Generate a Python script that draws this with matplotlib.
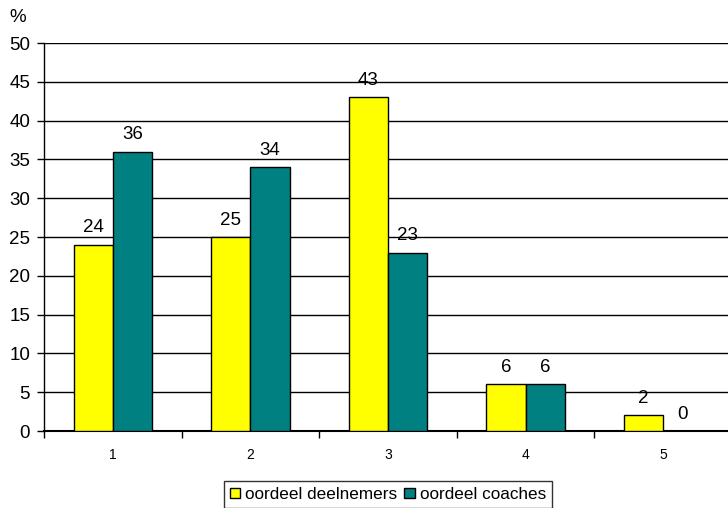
import numpy as np
import matplotlib.pyplot as plt

plt.rcParams['font.family'] = ['Liberation Sans', 'DejaVu Sans']

categories = ['1', '2', '3', '4', '5']
deelnemers = [24, 25, 43, 6, 2]
coaches = [36, 34, 23, 6, 0]

fig = plt.figure(figsize=(7.28, 5.08), dpi=100)
ax = fig.add_axes([44/728, 77/508, 688/728, 388/508])

x = np.arange(1, len(categories) + 1)
w = 0.285
b1 = ax.bar(x - w/2, deelnemers, w, color='#FFFF00', edgecolor='black', linewidth=1,
            label='oordeel deelnemers', zorder=3)
b2 = ax.bar(x + w/2, coaches, w, color='#008080', edgecolor='black', linewidth=1,
            label='oordeel coaches', zorder=3)
ax.bar_label(b1, padding=6, fontsize=13.5)
ax.bar_label(b2, padding=6, fontsize=13.5)

ax.set_xlim(0.5, 5.5)
ax.set_ylim(0, 50)
ax.set_yticks(range(0, 51, 5))
ax.tick_params(axis='y', labelsize=13.5, length=5, width=1, direction='out', pad=5)
ax.set_xticks(x)
ax.set_xticklabels(categories)
ax.set_xticks(np.arange(0.5, 6, 1), minor=True)
ax.tick_params(axis='x', which='major', length=0, labelsize=10, pad=12)
ax.tick_params(axis='x', which='minor', length=5, width=1, direction='out')
ax.yaxis.grid(True, color='black', linewidth=1)
ax.set_axisbelow(True)
for s in ['top', 'right']:
    ax.spines[s].set_visible(False)
ax.spines['left'].set_linewidth(1)
ax.spines['bottom'].set_linewidth(1.5)

fig.text(18/728, 1 - 18/508, '%', fontsize=13.5, ha='center', va='center')

leg = fig.legend(loc='upper center', bbox_to_anchor=(388/728, 1 - 481/508), ncol=2,
                 fontsize=12.3, frameon=True, fancybox=False, edgecolor='black',
                 handlelength=0.6, handleheight=0.6, handletextpad=0.3,
                 columnspacing=0.4, borderpad=0.35, borderaxespad=0)
leg.get_frame().set_linewidth(1)

fig.savefig('out.png', dpi=100)
